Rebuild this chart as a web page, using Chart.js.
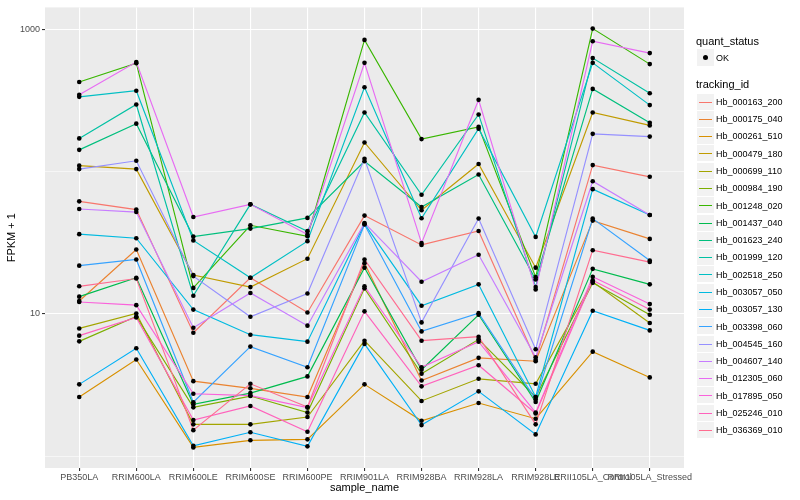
<!DOCTYPE html>
<html><head><meta charset="utf-8">
<script src="https://cdn.jsdelivr.net/npm/chart.js@4.4.1/dist/chart.umd.min.js"></script>
<style>
html,body{margin:0;padding:0;background:#fff;}
#wrap{position:relative;width:800px;height:500px;font-family:"Liberation Sans",Arial,Helvetica,sans-serif;}
canvas{position:absolute;left:0;top:0;}
.lg{position:absolute;white-space:nowrap;color:#000;}
.ttl{font-size:11px;line-height:14px;height:14px;}
.lab{font-size:9px;line-height:12px;height:12px;}
.key{position:absolute;width:17px;background:#F2F2F2;}
.kl{position:absolute;left:2px;width:13px;top:8px;height:1px;}
</style></head><body>
<div id="wrap"><canvas id="c" width="800" height="500"></canvas><div id="legend"></div></div>
<script>
const categories = ["PB350LA","RRIM600LA","RRIM600LE","RRIM600SE","RRIM600PE","RRIM901LA","RRIM928BA","RRIM928LA","RRIM928LE","RRII105LA_Control","RRII105LA_Stressed"];
const trackingIds = ["Hb_000163_200","Hb_000175_040","Hb_000261_510","Hb_000479_180","Hb_000699_110","Hb_000984_190","Hb_001248_020","Hb_001437_040","Hb_001623_240","Hb_001999_120","Hb_002518_250","Hb_003057_050","Hb_003057_130","Hb_003398_060","Hb_004545_160","Hb_004607_140","Hb_012305_060","Hb_017895_050","Hb_025246_010","Hb_036369_010"];
const seriesColors = ["#F8766D","#EA8331","#D89000","#C09B00","#A3A500","#7CAE00","#39B600","#00BB4E","#00BF7D","#00C1A3","#00BFC4","#00BAE0","#00B0F6","#35A2FF","#9590FF","#C77CFF","#E76BF3","#FA62DB","#FF62BC","#FF6C90"];
const yTickValues = [1, 10, 100, 1000];
const yTickLabels = ["", "10", "", "1000"];

const hb000163_200 = [61.7, 54.0, 7.36, 17.9, 10.2, 49.0, 30.5, 38.2, 4.75, 111, 91.8];
const hb000175_040 = [12.3, 28.3, 3.36, 2.99, 2.60, 22.7, 3.40, 4.90, 4.64, 45.2, 33.6];
const hb000261_510 = [2.60, 4.77, 1.15, 1.29, 1.31, 3.19, 1.77, 2.36, 1.83, 5.42, 3.57];
const hb000479_180 = [110, 104, 18.7, 15.4, 24.4, 160, 53.4, 113, 21.1, 260, 211];
const hb000699_110 = [7.89, 10.05, 1.67, 1.67, 1.88, 6.47, 2.44, 3.49, 3.22, 16.8, 8.61];
const hb000984_190 = [6.40, 9.57, 2.20, 2.64, 2.02, 15.1, 3.79, 6.61, 2.60, 16.5, 9.84];
const hb001248_020 = [426, 578, 15.2, 41.9, 35.1, 842, 169, 206, 18.1, 1011, 569];
const hb001437_040 = [13.2, 17.9, 2.31, 2.77, 3.63, 21.1, 4.04, 9.84, 2.40, 20.7, 16.1];
const hb001623_240 = [142, 217, 34.9, 39.7, 47.2, 118, 56.3, 95.3, 17.4, 381, 220];
const hb001999_120 = [171, 296, 13.4, 58.8, 38.1, 260, 68.7, 252, 15.4, 627, 355];
const hb002518_250 = [335, 370, 32.8, 17.9, 32.4, 391, 46.9, 200, 34.7, 581, 293];
const hb003057_050 = [36.3, 34.0, 10.7, 7.13, 6.37, 42.8, 11.4, 16.1, 2.60, 75.2, 49.5];
const hb003057_130 = [3.19, 5.72, 1.18, 1.47, 1.17, 6.14, 1.65, 2.85, 1.42, 10.5, 7.64];
const hb003398_060 = [21.8, 24.1, 2.39, 5.88, 4.21, 42.4, 7.52, 10.1, 2.50, 46.7, 23.7];
const hb004545_160 = [104, 119, 18.4, 9.53, 13.9, 123, 8.70, 46.7, 5.63, 184, 176];
const hb004607_140 = [54.5, 51.9, 7.98, 14.0, 8.25, 43.5, 16.8, 26.0, 4.95, 85.5, 49.5];
const hb012305_060 = [346, 588, 47.9, 58.8, 36.1, 581, 31.4, 319, 14.8, 824, 680];
const hb017895_050 = [12.1, 11.5, 2.74, 2.66, 2.19, 15.6, 4.21, 6.37, 2.02, 18.2, 11.7];
const hb025246_010 = [7.02, 9.42, 1.79, 2.25, 1.48, 10.4, 3.09, 4.35, 1.99, 17.2, 10.7];
const hb036369_010 = [15.6, 17.7, 1.52, 3.22, 2.21, 24.1, 6.47, 6.90, 1.67, 28.0, 23.1];

const series = [hb000163_200, hb000175_040, hb000261_510, hb000479_180, hb000699_110, hb000984_190, hb001248_020, hb001437_040, hb001623_240, hb001999_120, hb002518_250, hb003057_050, hb003057_130, hb003398_060, hb004545_160, hb004607_140, hb012305_060, hb017895_050, hb025246_010, hb036369_010];

const FONT = '"Liberation Sans", Arial, Helvetica, sans-serif';

const lineDatasets = series.map((vals, k) => ({
  label: trackingIds[k],
  data: vals.map((v, i) => ({x: i, y: v})),
  borderColor: seriesColors[k],
  borderWidth: 1.15,
  pointRadius: 0,
  fill: false,
  tension: 0,
  order: 100 - k
}));
const pointDataset = {
  label: 'OK',
  data: series.flatMap(vals => vals.map((v, i) => ({x: i, y: v}))),
  showLine: false,
  pointRadius: 2.3,
  pointBackgroundColor: '#000000',
  pointBorderWidth: 0,
  pointBorderColor: '#000000',
  order: 0
};

const panelBg = {
  id: 'panelBg',
  beforeDraw(chart) {
    const {ctx, chartArea: a} = chart;
    ctx.save();
    ctx.fillStyle = '#EBEBEB';
    ctx.fillRect(a.left, a.top, a.right - a.left, a.bottom - a.top);
    ctx.restore();
  }
};

new Chart(document.getElementById('c'), {
  type: 'line',
  data: { datasets: [...lineDatasets, pointDataset] },
  options: {
    responsive: false,
    animation: false,
    layout: { padding: { left: 0, right: 116, top: 5, bottom: 0 } },
    plugins: { legend: { display: false }, tooltip: { enabled: false } },
    scales: {
      x: {
        type: 'linear', min: -0.6, max: 10.6,
        afterBuildTicks: s => { s.ticks = categories.map((c, i) => ({ value: i })); },
        afterFit: s => { s.height = 32; },
        ticks: {
          callback: (v) => categories[v],
          autoSkip: false, maxRotation: 0, minRotation: 0,
          color: '#4D4D4D', font: { size: 9, family: FONT }, padding: 1
        },
        grid: { color: '#FFFFFF', lineWidth: 1.1, tickColor: '#333333', tickLength: 3, drawTicks: true },
        border: { display: false },
        title: { display: true, text: 'sample_name', color: '#000000', font: { size: 11, family: FONT }, padding: { top: 0, bottom: 5.4 } }
      },
      y: {
        type: 'logarithmic', min: 0.824, max: 1425,
        afterBuildTicks: s => { s.ticks = yTickValues.map(v => ({ value: v })); },
        afterFit: s => { s.width = 45; },
        ticks: {
          callback: (v, i) => yTickLabels[yTickValues.indexOf(v)] || '',
          autoSkip: false,
          color: '#4D4D4D', font: { size: 9, family: FONT }, padding: 2
        },
        grid: {
          color: '#FFFFFF',
          lineWidth: ctx => (ctx.tick && (ctx.tick.value === 10 || ctx.tick.value === 1000)) ? 1.1 : 0.55,
          tickColor: ctx => (ctx.tick && (ctx.tick.value === 10 || ctx.tick.value === 1000)) ? '#333333' : 'rgba(0,0,0,0)',
          tickLength: 3, drawTicks: true
        },
        border: { display: false },
        title: { display: true, text: 'FPKM + 1', color: '#000000', font: { size: 11, family: FONT }, padding: { top: 5.4, bottom: 0 } }
      }
    }
  },
  plugins: [panelBg]
});

// legend (ggplot style)
const lg = document.getElementById('legend');
function add(html) { lg.insertAdjacentHTML('beforeend', html); }
add('<div class="lg ttl" style="left:696px;top:34px">quant_status</div>');
add('<div class="key" style="left:697px;top:49px;height:17px"><div style="position:absolute;left:6px;top:6px;width:5px;height:5px;border-radius:50%;background:#000"></div></div>');
add('<div class="lg lab" style="left:716px;top:51.5px">OK</div>');
add('<div class="lg ttl" style="left:696px;top:77.3px">tracking_id</div>');
trackingIds.forEach((id, k) => {
  const top = Math.round(93.6 + k * 17.28);
  add('<div class="key" style="left:697px;top:' + top + 'px;height:16px"><div class="kl" style="background:' + seriesColors[k] + '"></div></div>');
  add('<div class="lg lab" style="left:716px;top:' + (93.6 + k * 17.28 + 2.3) + 'px">' + id + '</div>');
});
</script>
</body></html>
